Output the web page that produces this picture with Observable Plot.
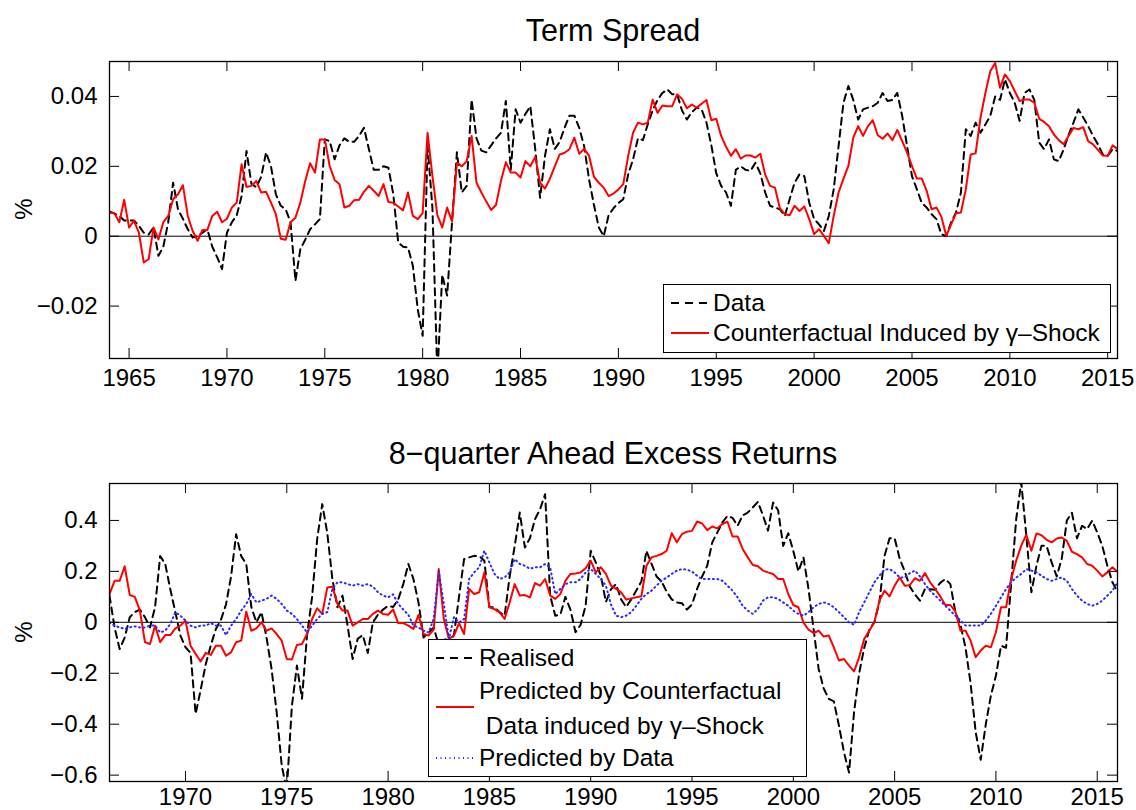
<!DOCTYPE html>
<html><head><meta charset="utf-8">
<script src="https://cdn.jsdelivr.net/npm/d3@7"></script>
<script src="https://cdn.jsdelivr.net/npm/@observablehq/plot@0.6"></script>
<style>
body{margin:0;background:#fff;}
#root{position:relative;width:1136px;height:810px;font-family:"Liberation Sans",Arial,Helvetica,sans-serif;color:#000;overflow:hidden;background:#fff}
.panel{position:absolute;left:0}
.title{position:absolute;left:109px;width:1008px;text-align:center;font-size:30.5px;line-height:30px;white-space:nowrap}
.ylab{position:absolute;font-size:24px;line-height:24px;transform:translate(-50%,-50%) rotate(-90deg)}
.legend{position:absolute;background:#fff;border:1.5px solid #000;box-sizing:border-box}
.lt{position:absolute;font-size:24.5px;line-height:24px;white-space:pre}
.ls{position:absolute;line-height:0}
.ls svg{display:block}
</style>
</head><body>
<div id="root"></div>
<script>
// ---------- Panel 1: Term Spread (quarterly, from 1964Q1) ----------
const tsStart = 1964;
const tsData = [
0.007,0.0065,0.0058,0.0045,0.0045,0.0045,0.003,0.001,0.0005,0.0025,
-0.0056,-0.003,0.004,0.0153,0.0077,0.005,0.002,-0.0004,0,0.001,
0.002,-0.003,-0.006,-0.0094,0.001,0.004,0.006,0.0115,0.0244,0.015,
0.014,0.017,0.024,0.02,0.012,0.0087,0.0077,0.004,-0.0128,-0.0037,
-0.001,0.002,0.0034,0.0049,0.0277,0.0272,0.022,0.026,0.028,0.027,
0.027,0.0287,0.031,0.025,0.019,0.019,0.02,0.0196,0.012,-0.0018,
-0.003,-0.0032,-0.0085,-0.021,-0.0285,0.026,0.008,-0.04,-0.011,-0.017,
0.004,0.024,0.0125,0.0144,0.0391,0.028,0.0245,0.024,0.026,0.028,
0.0296,0.0387,0.019,0.0363,0.0325,0.035,0.0372,0.025,0.011,0.023,
0.0306,0.025,0.027,0.031,0.0345,0.0345,0.031,0.0258,0.0163,0.009,
0.0025,0.0,0.006,0.008,0.0095,0.0106,0.0177,0.022,0.028,0.0275,
0.032,0.036,0.039,0.041,0.042,0.0406,0.0406,0.036,0.0334,0.0355,
0.0368,0.0363,0.0325,0.026,0.018,0.0144,0.0125,0.0087,0.019,0.02,
0.019,0.0187,0.021,0.018,0.0125,0.0087,0.0082,0.0077,0.0058,0.0106,
0.0153,0.0177,0.0172,0.0096,0.0049,0.0034,0.0015,0.0058,0.0134,0.0258,
0.0382,0.043,0.039,0.0334,0.0363,0.0368,0.0372,0.0382,0.041,0.0387,
0.039,0.041,0.0344,0.0258,0.0172,0.0134,0.0095,0.0082,0.0063,0.0049,
0.0006,0,0.004,0.0068,0.0125,0.0306,0.0287,0.0325,0.0296,0.032,
0.0344,0.04,0.039,0.0449,0.041,0.0382,0.033,0.041,0.042,0.039,
0.0268,0.0249,0.0277,0.022,0.0215,0.0249,0.029,0.0325,0.0363,0.034,
0.0315,0.0287,0.0263,0.0234,0.023,0.0249,0.0244];
const tsCounterfactual = [
0.0068,0.0066,0.004,0.0104,0.0025,0.0044,0.001,-0.0075,-0.0066,0.0025,
-0.0009,0.004,0.0058,0.0106,0.012,0.0146,0.0058,0.0015,-0.0013,0.0018,
0.0018,0.0058,0.007,0.004,0.005,0.0082,0.0096,0.0206,0.0141,0.0144,
0.0158,0.0125,0.0127,0.0096,0.0063,-0.0007,-0.001,0.004,0.0053,0.0096,
0.0158,0.0209,0.0182,0.0277,0.0277,0.0201,0.0161,0.0149,0.0082,0.0087,
0.0103,0.0104,0.0127,0.0144,0.013,0.0115,0.0149,0.0098,0.0096,0.0085,
0.0074,0.0125,0.0058,0.0049,0.0066,0.0296,0.0172,0.006,0.0025,0.0082,
0.0042,0.021,0.02,0.0215,0.0287,0.0153,0.0125,0.0099,0.0075,0.009,
0.0158,0.0212,0.0182,0.0182,0.0168,0.0215,0.02,0.0227,0.0153,0.0136,
0.0165,0.02,0.0234,0.0239,0.0249,0.0282,0.0236,0.025,0.023,0.017,
0.0153,0.0139,0.0115,0.0122,0.0134,0.0149,0.023,0.0296,0.0325,0.032,
0.0325,0.0391,0.0353,0.0374,0.0372,0.0372,0.0406,0.0393,0.0366,0.0377,
0.0368,0.0379,0.039,0.0332,0.0336,0.0287,0.0256,0.023,0.0249,0.0222,
0.0231,0.0231,0.0225,0.0236,0.0176,0.0144,0.0139,0.008,0.0063,0.006,
0.0087,0.0072,0.0085,0.0049,0.0006,0.002,0.0001,-0.002,0.0058,0.0125,
0.0165,0.0201,0.0282,0.0315,0.0287,0.0315,0.0332,0.0289,0.0279,0.0294,
0.0275,0.0304,0.0272,0.0239,0.0201,0.0165,0.0165,0.013,0.0077,0.0082,
0.0056,0.0001,0.0034,0.0066,0.0068,0.0134,0.0234,0.0237,0.0339,0.041,
0.0472,0.0496,0.0425,0.0463,0.0444,0.0415,0.0387,0.0391,0.0391,0.0382,
0.0336,0.0327,0.0315,0.0291,0.0275,0.0263,0.0287,0.031,0.0306,0.0312,
0.0272,0.0263,0.0247,0.0231,0.023,0.026,0.025];
const tsYearTicks = [1965,1970,1975,1980,1985,1990,1995,2000,2005,2010,2015];
const tsValueTicks = [-0.02,0,0.02,0.04];

// ---------- Panel 2: 8-quarter ahead excess returns (quarterly, from 1966Q2) ----------
const erStart = 1966.25;
const erRealised = [
0.105,-0.02,-0.105,-0.06,0.02,0.04,0.05,0.02,-0.02,0.06,
0.26,0.229,0.13,0.04,-0.052,-0.098,-0.12,-0.36,-0.265,-0.165,
-0.09,-0.026,0.01,0.07,0.18,0.346,0.26,0.229,0.06,0.0,
0.04,-0.06,-0.183,-0.353,-0.562,-0.66,-0.33,-0.17,-0.3,-0.05,
0.1,0.327,0.464,0.35,0.17,0.059,0.105,-0.013,-0.144,-0.065,
-0.05,-0.12,0.0,0.03,0.05,0.065,0.06,0.09,0.15,0.229,
0.17,0.078,-0.06,-0.04,-0.02,-0.09,-0.06,-0.08,-0.05,0.1,
0.248,0.255,0.261,0.26,0.242,0.06,0.059,0.04,0.026,0.18,
0.3,0.431,0.294,0.33,0.405,0.444,0.503,0.105,0.026,0.03,
0.1,0.05,-0.039,-0.01,0.065,0.281,0.235,0.183,0.08,0.13,
0.15,0.09,0.06,0.09,0.125,0.16,0.281,0.23,0.18,0.16,
0.12,0.09,0.078,0.075,0.05,0.07,0.131,0.18,0.222,0.314,
0.353,0.392,0.418,0.41,0.379,0.42,0.431,0.451,0.473,0.42,
0.36,0.47,0.44,0.3,0.35,0.28,0.2,0.255,0.131,-0.026,
-0.183,-0.26,-0.3,-0.31,-0.405,-0.51,-0.59,-0.35,-0.2,-0.1,
-0.03,0.0,0.08,0.26,0.33,0.33,0.25,0.2,0.14,0.11,
0.085,0.131,0.13,0.128,0.155,0.17,0.15,0.04,-0.01,-0.1,
-0.24,-0.431,-0.54,-0.4,-0.288,-0.209,-0.092,-0.1,0.15,0.405,
0.55,0.34,0.118,0.222,0.301,0.3,0.235,0.18,0.25,0.4,
0.43,0.33,0.379,0.366,0.399,0.353,0.3,0.222,0.157,0.12];
const erCounterfactual = [
0.111,0.163,0.163,0.22,0.107,0.1,0.046,-0.078,-0.085,-0.013,
-0.078,-0.05,-0.05,-0.024,-0.013,0.007,-0.092,-0.124,-0.154,-0.12,
-0.128,-0.092,-0.092,-0.131,-0.118,-0.078,-0.072,0.042,-0.033,-0.024,
0.0,-0.033,-0.024,-0.046,-0.072,-0.144,-0.146,-0.089,-0.085,-0.046,
0.013,0.055,0.033,0.137,0.14,0.072,0.046,0.046,-0.013,0.0,
0.013,0.013,0.033,0.046,0.033,0.03,0.05,-0.003,-0.003,-0.013,
-0.026,0.029,-0.046,-0.052,-0.029,0.209,0.013,-0.065,-0.052,-0.003,
-0.046,0.131,0.111,0.118,0.196,0.059,0.052,0.039,0.013,0.078,
0.15,0.105,0.107,0.098,0.154,0.144,0.17,0.105,0.092,0.111,
0.163,0.19,0.192,0.196,0.212,0.242,0.196,0.216,0.19,0.144,
0.131,0.118,0.089,0.094,0.098,0.102,0.222,0.255,0.261,0.268,
0.281,0.35,0.314,0.346,0.356,0.359,0.396,0.388,0.362,0.376,
0.369,0.386,0.395,0.337,0.337,0.288,0.255,0.225,0.22,0.203,
0.196,0.19,0.17,0.17,0.111,0.068,0.059,0.0,-0.029,-0.042,
-0.033,-0.056,-0.052,-0.098,-0.15,-0.144,-0.17,-0.193,-0.137,-0.065,
-0.033,0.0,0.085,0.124,0.102,0.144,0.176,0.144,0.146,0.173,
0.163,0.193,0.157,0.131,0.102,0.068,0.068,0.042,-0.033,-0.033,
-0.072,-0.137,-0.111,-0.092,-0.098,-0.039,0.059,0.059,0.17,0.242,
0.301,0.344,0.281,0.349,0.342,0.324,0.314,0.329,0.333,0.32,
0.277,0.268,0.255,0.229,0.222,0.203,0.18,0.196,0.216,0.199];
const erPredictedByData = [
0.0,-0.013,-0.02,-0.026,-0.02,-0.016,-0.02,-0.02,-0.013,-0.013,
-0.04,-0.033,-0.007,0.04,0.026,0.007,-0.013,-0.02,-0.013,-0.013,
-0.003,-0.013,-0.013,-0.05,-0.013,0.013,0.046,0.072,0.111,0.078,
0.085,0.092,0.105,0.092,0.072,0.046,0.033,0.013,-0.013,-0.04,
-0.013,0.013,0.033,0.04,0.131,0.157,0.157,0.15,0.144,0.15,
0.144,0.15,0.14,0.118,0.105,0.098,0.11,0.072,0.05,0.03,
-0.013,-0.02,-0.033,-0.04,0.013,0.2,0.072,-0.065,0.02,0.0,
0.013,0.17,0.196,0.216,0.281,0.235,0.19,0.17,0.176,0.196,
0.248,0.229,0.222,0.21,0.216,0.216,0.229,0.216,0.111,0.131,
0.15,0.157,0.157,0.17,0.196,0.209,0.19,0.17,0.144,0.07,
0.026,0.02,0.026,0.04,0.065,0.092,0.111,0.124,0.144,0.163,
0.176,0.19,0.203,0.209,0.207,0.199,0.183,0.17,0.17,0.17,
0.17,0.163,0.144,0.124,0.098,0.065,0.046,0.033,0.052,0.085,
0.098,0.098,0.092,0.078,0.065,0.046,0.033,0.026,0.04,0.059,
0.072,0.078,0.072,0.059,0.04,0.02,0.0,-0.01,0.04,0.078,
0.118,0.157,0.183,0.207,0.209,0.196,0.176,0.176,0.193,0.203,
0.18,0.15,0.124,0.105,0.085,0.065,0.046,0.026,0.007,-0.013,
-0.013,-0.013,-0.013,0.007,0.033,0.065,0.098,0.131,0.157,0.176,
0.19,0.209,0.203,0.196,0.183,0.17,0.163,0.17,0.176,0.163,
0.131,0.105,0.085,0.072,0.065,0.072,0.085,0.105,0.124,0.157];
const erYearTicks = [1970,1975,1980,1985,1990,1995,2000,2005,2010,2015];
const erValueTicks = [-0.6,-0.4,-0.2,0,0.2,0.4];

const titles = ["Term Spread", "8\u2212quarter Ahead Excess Returns"];
const legendTop = ["Data", "Counterfactual Induced by \u03b3\u2013Shock"];
const legendBottom = ["Realised", "Predicted by Counterfactual", " Data induced by \u03b3\u2013Shock", "Predicted by Data"];

// ---------- build ----------
const tsRows = tsData.map((v, i) => ({date: tsStart + i / 4, data: v, cf: tsCounterfactual[i]}));
const erRows = erRealised.map((v, i) => ({date: erStart + i / 4, real: v, cf: erCounterfactual[i], pd: erPredictedByData[i]}));
const fmt = d => d === 0 ? "0" : (d < 0 ? "\u2212" : "") + String(+Math.abs(d).toFixed(3));
const FONT = "Liberation Sans, Arial, Helvetica, sans-serif";
const TICK = 10;

function panel({rows, series, xDomain, yDomain, xTicks, yTicks, height, mt, mb, xPad}) {
  const W = 1136, ml = 109, mr = 19;
  const ih = height - mt - mb, iw = W - ml - mr;
  const ky = (yDomain[1] - yDomain[0]) * TICK / ih;
  const kx = (xDomain[1] - xDomain[0]) * TICK / iw;
  return Plot.plot({
    width: W, height, marginLeft: ml, marginRight: mr, marginTop: mt, marginBottom: mb,
    style: {fontFamily: FONT, fontSize: "24px", color: "#000", background: "transparent", overflow: "visible"},
    x: {domain: xDomain, ticks: xTicks, tickFormat: d => String(d), tickSize: 0, tickPadding: xPad, label: null},
    y: {domain: yDomain, ticks: yTicks, tickFormat: fmt, tickSize: 0, tickPadding: 12, label: null},
    marks: [
      Plot.ruleY([0], {stroke: "#000", strokeWidth: 1}),
      ...series.map(s => Plot.line(rows, {x: "date", y: s.key, stroke: s.color, strokeWidth: s.width, strokeDasharray: s.dash, clip: true})),
      Plot.ruleX(xTicks, {x: d => d, y1: yDomain[0], y2: yDomain[0] + ky, stroke: "#000", strokeWidth: 1}),
      Plot.ruleX(xTicks, {x: d => d, y1: yDomain[1] - ky, y2: yDomain[1], stroke: "#000", strokeWidth: 1}),
      Plot.ruleY(yTicks, {y: d => d, x1: xDomain[0], x2: xDomain[0] + kx, stroke: "#000", strokeWidth: 1}),
      Plot.ruleY(yTicks, {y: d => d, x1: xDomain[1] - kx, x2: xDomain[1], stroke: "#000", strokeWidth: 1}),
      Plot.frame({stroke: "#000", strokeWidth: 1.3})
    ]
  });
}

const root = document.getElementById("root");
function place(el, top) { el.classList.add("panel"); el.style.top = top + "px"; root.appendChild(el); }

place(panel({rows: tsRows, series: [
    {key: "data", color: "#000", dash: "7,5", width: 2},
    {key: "cf", color: "#ff0000", dash: null, width: 2}],
  xDomain: [1964, 2015.5], yDomain: [-0.035, 0.05], xTicks: tsYearTicks, yTicks: tsValueTicks,
  height: 400, mt: 61, mb: 42, xPad: 10}), 0);

place(panel({rows: erRows, series: [
    {key: "real", color: "#000", dash: "7,5", width: 2},
    {key: "cf", color: "#ff0000", dash: null, width: 2},
    {key: "pd", color: "#2a2aff", dash: "1,3.5", width: 2}],
  xDomain: [1966.25, 2016], yDomain: [-0.625, 0.545], xTicks: erYearTicks, yTicks: erValueTicks,
  height: 410, mt: 83, mb: 29, xPad: 6}), 400);

function div(cls, css, text) {
  const d = document.createElement("div"); d.className = cls; Object.assign(d.style, css);
  if (text != null) d.textContent = text; return d;
}
root.appendChild(div("title", {top: "15px"}, titles[0]));
root.appendChild(div("title", {top: "438px"}, titles[1]));
root.appendChild(div("ylab", {left: "24px", top: "209px"}, "%"));
root.appendChild(div("ylab", {left: "24px", top: "632px"}, "%"));

function sample(color, dash) {
  const ns = "http://www.w3.org/2000/svg";
  const s = document.createElementNS(ns, "svg");
  s.setAttribute("width", 40); s.setAttribute("height", 6);
  const l = document.createElementNS(ns, "line");
  l.setAttribute("x1", 1); l.setAttribute("x2", 39); l.setAttribute("y1", 3); l.setAttribute("y2", 3);
  l.setAttribute("stroke", color); l.setAttribute("stroke-width", 2);
  if (dash) l.setAttribute("stroke-dasharray", dash);
  s.appendChild(l); return s;
}
function legend(box, items) {
  const L = div("legend", {left: box[0] + "px", top: box[1] + "px", width: box[2] + "px", height: box[3] + "px"});
  for (const it of items) {
    if (it.color) { const sw = div("ls", {left: it.sx + "px", top: (it.sy - 3) + "px"}); sw.appendChild(sample(it.color, it.dash)); L.appendChild(sw); }
    if (it.text != null) L.appendChild(div("lt", {left: it.tx + "px", top: (it.ty - 12) + "px"}, it.text));
  }
  root.appendChild(L);
}
legend([663, 284, 448, 69], [
  {color: "#000", dash: "8,6", sx: 6, sy: 18, text: legendTop[0], tx: 49, ty: 18},
  {color: "#ff0000", dash: null, sx: 6, sy: 48, text: legendTop[1], tx: 49, ty: 48}
]);
legend([428, 639, 379, 138], [
  {color: "#000", dash: "8,6", sx: 6, sy: 18, text: legendBottom[0], tx: 50, ty: 18},
  {text: legendBottom[1], tx: 50, ty: 51},
  {color: "#ff0000", dash: null, sx: 6, sy: 67},
  {text: legendBottom[2], tx: 50, ty: 86},
  {color: "#2a2aff", dash: "1,3.5", sx: 6, sy: 118, text: legendBottom[3], tx: 50, ty: 118}
]);
</script>
</body></html>
